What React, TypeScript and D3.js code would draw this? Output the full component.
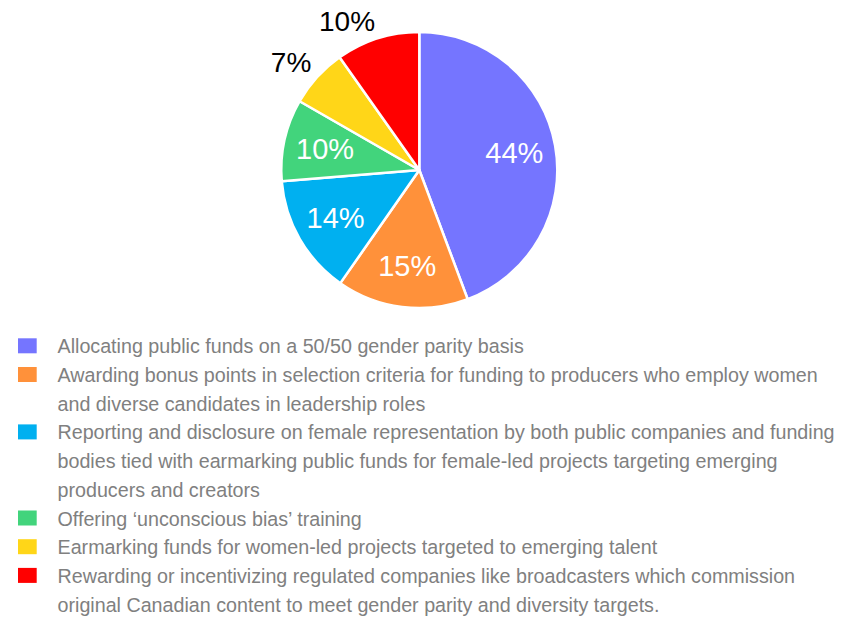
import React from "react";
import * as d3 from "d3";

const categories: string[][] = [
  ["Allocating public funds on a 50/50 gender parity basis"],
  [
    "Awarding bonus points in selection criteria for funding to producers who employ women",
    "and diverse candidates in leadership roles",
  ],
  [
    "Reporting and disclosure on female representation by both public companies and funding",
    "bodies tied with earmarking public funds for female-led projects targeting emerging",
    "producers and creators",
  ],
  ["Offering \u2018unconscious bias\u2019 training"],
  ["Earmarking funds for women-led projects targeted to emerging talent"],
  [
    "Rewarding or incentivizing regulated companies like broadcasters which commission",
    "original Canadian content to meet gender parity and diversity targets.",
  ],
];
const values: number[] = [44.3, 15.4, 14.0, 9.6, 6.9, 9.8];
const labels: string[] = ["44%", "15%", "14%", "10%", "7%", "10%"];
const outside: boolean[] = [false, false, false, false, true, true];
const colors: string[] = ["#7575FF", "#FF913A", "#00B0F0", "#42D47C", "#FFD618", "#FF0000"];

const W = 854;
const H = 617;
const cx = 419.3;
const cy = 170;
const R = 138;
const FONT = "'Liberation Sans', Arial, sans-serif";

export default function App() {
  const pie = d3
    .pie<number>()
    .sort(null)
    .value((d) => d);
  const arcs = pie(values);
  const arc = d3.arc<d3.PieArcDatum<number>>().innerRadius(0).outerRadius(R);

  const legendX = 57.5;
  const baseline0 = 353.3;
  const lineH = 28.7;
  let lineIdx = 0;
  const legendItems = categories.map((lines, i) => {
    const start = lineIdx;
    lineIdx += lines.length;
    return { lines, start, color: colors[i] };
  });

  return (
    <svg
      width={W}
      height={H}
      style={{ position: "absolute", left: 0, top: 0, background: "#fff" }}
    >
      <g transform={`translate(${cx},${cy})`}>
        {arcs.map((a, i) => (
          <path key={i} d={arc(a) || ""} fill={colors[i]} stroke="#fff" strokeWidth={2.5} strokeLinejoin="round" />
        ))}
        {arcs.map((a, i) => {
          const mid = (a.startAngle + a.endAngle) / 2;
          const s = Math.sin(mid);
          const c = Math.cos(mid);
          if (outside[i]) {
            const rr = R + 8;
            const x = rr * s;
            const y = -rr * c;
            return (
              <text
                key={i}
                x={x}
                y={y}
                textAnchor={s < 0 ? "end" : "start"}
                dominantBaseline={c > 0 ? "alphabetic" : "hanging"}
                fontFamily={FONT}
                fontSize={28}
                fill="#000"
              >
                {labels[i]}
              </text>
            );
          }
          const rr = R * 0.7;
          return (
            <text
              key={i}
              x={rr * s}
              y={-rr * c + 10}
              textAnchor="middle"
              fontFamily={FONT}
              fontSize={29}
              fill="#fff"
            >
              {labels[i]}
            </text>
          );
        })}
      </g>
      <g>
        {legendItems.map((it, i) => {
          const by = baseline0 + lineH * it.start;
          return (
            <g key={i}>
              <rect x={18} y={by - 15} width={18.7} height={15} fill={it.color} />
              {it.lines.map((ln, j) => (
                <text
                  key={j}
                  x={legendX}
                  y={baseline0 + lineH * (it.start + j)}
                  fontFamily={FONT}
                  fontSize={19.7}
                  fill="#808080"
                >
                  {ln}
                </text>
              ))}
            </g>
          );
        })}
      </g>
    </svg>
  );
}
